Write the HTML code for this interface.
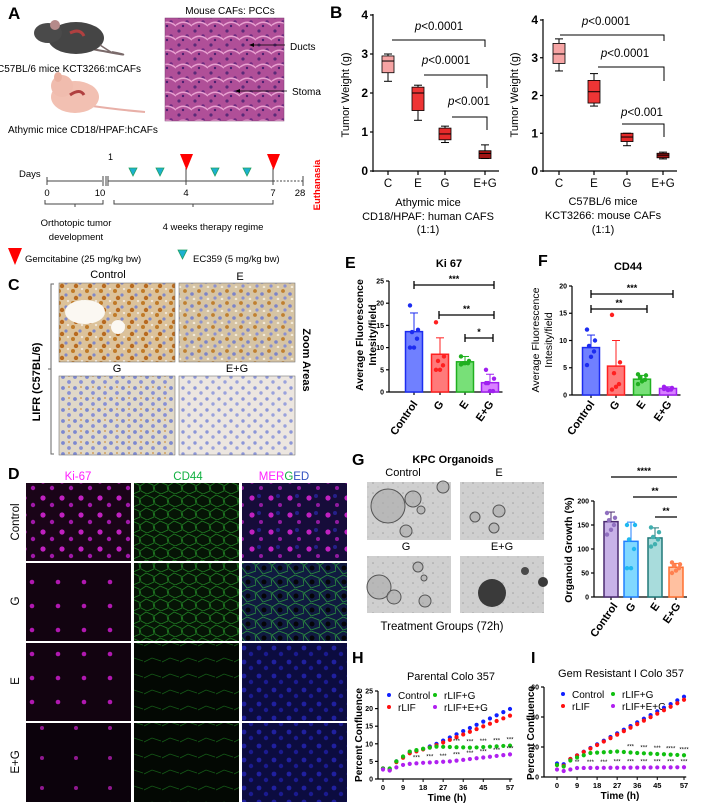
<!DOCTYPE html>
<html><head><meta charset="utf-8"><style>
html,body{margin:0;padding:0;background:#fff}
svg{display:block;font-family:"Liberation Sans",Arial,sans-serif}
</style></head><body>
<svg id="s" width="702" height="803" viewBox="0 0 702 803" xmlns="http://www.w3.org/2000/svg">
<defs>
<pattern id="he" width="16" height="14" patternUnits="userSpaceOnUse">
<rect width="16" height="14" fill="#b04f98"/><circle cx="3" cy="3" r="1.6" fill="#5a2a78"/><circle cx="11" cy="8" r="1.8" fill="#6a2a80"/><path d="M0 11 Q8 5 16 12" stroke="#e8a0d0" stroke-width="1.5" fill="none"/><circle cx="7" cy="12" r="1.2" fill="#4a2070"/></pattern>
<pattern id="ihc1" width="14" height="12" patternUnits="userSpaceOnUse">
<rect width="14" height="12" fill="#dcc29a"/><circle cx="3" cy="3" r="2" fill="#c07a28"/><circle cx="10" cy="7" r="1.6" fill="#8088c8"/><circle cx="6" cy="10" r="2.2" fill="#b86a20"/><circle cx="12" cy="1" r="1.2" fill="#f0e6d8"/></pattern>
<pattern id="ihc2" width="14" height="12" patternUnits="userSpaceOnUse">
<rect width="14" height="12" fill="#d6c4a4"/><circle cx="3" cy="3" r="1.9" fill="#c08030"/><circle cx="10" cy="6" r="1.8" fill="#7c84c8"/><circle cx="5" cy="10" r="1.6" fill="#8a90d0"/><circle cx="12" cy="11" r="1.3" fill="#f2ead8"/></pattern>
<pattern id="ihc3" width="12" height="11" patternUnits="userSpaceOnUse">
<rect width="12" height="11" fill="#e0d8c8"/><circle cx="3" cy="3" r="1.9" fill="#7c88d0"/><circle cx="9" cy="8" r="1.9" fill="#8890d4"/><circle cx="9" cy="2" r="1" fill="#d0a060"/></pattern>
<pattern id="ihc4" width="12" height="11" patternUnits="userSpaceOnUse">
<rect width="12" height="11" fill="#ece6e0"/><circle cx="3" cy="3" r="1.7" fill="#8c96d8"/><circle cx="9" cy="8" r="1.7" fill="#9aa2dc"/></pattern>
<pattern id="ki" width="19" height="17" patternUnits="userSpaceOnUse">
<rect width="19" height="17" fill="#1a0418"/><circle cx="5" cy="5" r="2.6" fill="#c020c0"/><circle cx="14" cy="12" r="2.2" fill="#a018a8"/></pattern>
<pattern id="kiS" width="26" height="24" patternUnits="userSpaceOnUse">
<rect width="26" height="24" fill="#120310"/><circle cx="6" cy="6" r="2.3" fill="#b018b0"/></pattern>
<pattern id="kiT" width="34" height="30" patternUnits="userSpaceOnUse">
<rect width="34" height="30" fill="#0c020c"/><circle cx="8" cy="8" r="2" fill="#901890"/></pattern>
<pattern id="cd" width="14" height="13" patternUnits="userSpaceOnUse">
<rect width="14" height="13" fill="#061406"/><path d="M0 5 L6 1 L13 4 L14 10 L7 13 L1 10 Z" stroke="#1f7a22" stroke-width="0.9" fill="none"/></pattern>
<pattern id="cdS" width="18" height="16" patternUnits="userSpaceOnUse">
<rect width="18" height="16" fill="#030803"/><path d="M0 6 L8 2 L17 5" stroke="#145a16" stroke-width="0.8" fill="none"/></pattern>
<pattern id="mg" width="19" height="17" patternUnits="userSpaceOnUse">
<rect width="19" height="17" fill="#160c3a"/><circle cx="5" cy="5" r="2.6" fill="#c020c0"/><circle cx="14" cy="12" r="2" fill="#901aa0"/><circle cx="12" cy="3" r="2" fill="#25208a"/></pattern>
<pattern id="mgG" width="16" height="14" patternUnits="userSpaceOnUse">
<rect width="16" height="14" fill="#101a40"/><path d="M0 5 L7 1 L15 4 L16 11 L7 14 Z" stroke="#2a8a40" stroke-width="0.9" fill="none"/><circle cx="8" cy="8" r="2.5" fill="#050508"/></pattern>
<pattern id="mgB" width="15" height="14" patternUnits="userSpaceOnUse">
<rect width="15" height="14" fill="#0c0c40"/><circle cx="4" cy="4" r="2.4" fill="#2020a0"/><circle cx="11" cy="10" r="2.2" fill="#1a1a90"/></pattern>
<pattern id="org" width="10" height="10" patternUnits="userSpaceOnUse">
<rect width="10" height="10" fill="#cfcfcf"/><circle cx="3" cy="3" r="0.8" fill="#a0a0a0"/><circle cx="8" cy="7" r="0.6" fill="#b0b0b0"/></pattern>
</defs>

<!-- ===== A ===== -->
<text x="8" y="19" font-size="17" font-weight="bold">A</text>
<path d="M60 43 Q150 60 112 52" stroke="#7a6a6a" stroke-width="2" fill="none"/>
<ellipse cx="76" cy="38" rx="28" ry="16" fill="#454545"/>
<ellipse cx="48" cy="33" rx="14" ry="10" fill="#4a4a4a"/>
<circle cx="55" cy="25" r="5" fill="#b58a8a"/>
<path d="M70 33 Q80 28 84 36" stroke="#b04040" stroke-width="3" fill="none"/>
<path d="M100 45 Q115 55 112 52" stroke="#7a6a6a" stroke-width="1.5" fill="none"/>
<text x="-3" y="72" font-size="10">C57BL/6 mice KCT3266:mCAFs</text>
<path d="M85 105 Q120 110 145 112" stroke="#e8b0a8" stroke-width="2" fill="none"/>
<ellipse cx="75" cy="97" rx="24" ry="16" fill="#f2c0b2"/>
<ellipse cx="62" cy="86" rx="11" ry="11" fill="#f0bcae"/>
<ellipse cx="58" cy="77" rx="4" ry="5" fill="#eab0a0"/>
<path d="M70 95 Q80 88 84 95" stroke="#b04040" stroke-width="3" fill="none"/>
<text x="8" y="133" font-size="10">Athymic mice CD18/HPAF:hCAFs</text>
<text x="230" y="14" font-size="10" text-anchor="middle">Mouse CAFs: PCCs</text>
<rect x="165" y="18" width="119" height="103" fill="url(#he)"/>
<rect x="165" y="18" width="119" height="103" fill="none" stroke="#7a3a70" stroke-width="0.5"/>
<line x1="250" y1="45" x2="285" y2="45" stroke="#000" stroke-width="0.8"/><path d="M249 45 l5 -2 v4z"/>
<line x1="236" y1="91" x2="287" y2="91" stroke="#000" stroke-width="0.8"/><path d="M235 91 l5 -2 v4z"/>
<text x="290" y="50" font-size="10">Ducts</text>
<text x="292" y="95" font-size="10">Stoma</text>
<text x="108" y="160" font-size="9">1</text>
<text x="19" y="177" font-size="9.5">Days</text>
<g stroke="#444" stroke-width="1" fill="none">
<line x1="47" y1="181" x2="102" y2="181"/><line x1="47" y1="177" x2="47" y2="185"/>
<line x1="103" y1="176" x2="103" y2="186"/><line x1="106" y1="176" x2="106" y2="186"/>
<line x1="108" y1="181" x2="273" y2="181"/><line x1="108" y1="176" x2="108" y2="186"/>
<line x1="186" y1="168" x2="186" y2="185"/><line x1="273" y1="168" x2="273" y2="185"/>
<line x1="273" y1="181" x2="303" y2="181" stroke-dasharray="2,1.5"/><line x1="303" y1="176" x2="303" y2="186"/>
<path d="M45 200 v4 h30 v3 v-3 h28 v-4"/>
<path d="M114 200 v4 h79 v3 v-3 h80 v-4"/>
</g>
<g font-size="9.5" text-anchor="middle"><text x="47" y="196">0</text><text x="100" y="196">10</text><text x="186" y="196">4</text><text x="273" y="196">7</text><text x="300" y="196">28</text></g>
<g fill="#f00"><path d="M180 154 h13 l-6.5 16z"/><path d="M267 154 h13 l-6.5 16z"/></g>
<g fill="#1cb0d0" stroke="#20a060" stroke-width="0.8"><path d="M129 168 h8 l-4 8z"/><path d="M156 168 h8 l-4 8z"/><path d="M211 168 h8 l-4 8z"/><path d="M243 168 h8 l-4 8z"/></g>
<text x="76" y="226" font-size="9.5" text-anchor="middle">Orthotopic tumor</text>
<text x="76" y="240" font-size="9.5" text-anchor="middle">development</text>
<text x="213" y="230" font-size="9.5" text-anchor="middle">4 weeks therapy regime</text>
<text transform="translate(320,185) rotate(-90)" font-size="9.5" font-weight="bold" fill="#f00" text-anchor="middle">Euthanasia</text>
<path d="M8 248 h14 l-7 17z" fill="#f00"/>
<text x="25" y="262" font-size="9.5">Gemcitabine (25 mg/kg bw)</text>
<path d="M178 250 h9 l-4.5 9z" fill="#1cb0d0" stroke="#20a060" stroke-width="0.8"/>
<text x="193" y="262" font-size="9.5">EC359 (5 mg/kg bw)</text>

<!-- ===== C ===== -->
<text x="8" y="290" font-size="16" font-weight="bold">C</text>
<text x="108" y="278" font-size="11" text-anchor="middle">Control</text>
<text x="240" y="280" font-size="11" text-anchor="middle">E</text>
<text x="117" y="372" font-size="11" text-anchor="middle">G</text>
<text x="237" y="372" font-size="11" text-anchor="middle">E+G</text>
<rect x="59" y="283" width="116" height="79" fill="url(#ihc1)" stroke="#777" stroke-width="0.6"/>
<ellipse cx="85" cy="312" rx="20" ry="12" fill="#fbf8f2"/><ellipse cx="118" cy="327" rx="7" ry="7" fill="#fbf8f2"/>
<rect x="179" y="283" width="116" height="79" fill="url(#ihc2)" stroke="#777" stroke-width="0.6"/>
<rect x="59" y="376" width="116" height="79" fill="url(#ihc3)" stroke="#777" stroke-width="0.6"/>
<rect x="179" y="376" width="116" height="79" fill="url(#ihc4)" stroke="#777" stroke-width="0.6"/>
<path d="M54 284 h-3 v170 h3 M51 369 h-3" stroke="#666" fill="none" stroke-width="1"/>
<text transform="translate(40,382) rotate(-90)" font-size="11" font-weight="bold" text-anchor="middle">LIFR (C57BL/6)</text>
<text transform="translate(303,360) rotate(90)" font-size="11" font-weight="bold" text-anchor="middle">Zoom Areas</text>

<!-- ===== D ===== -->
<text x="8" y="479" font-size="16" font-weight="bold">D</text>
<text x="78" y="480" font-size="11.5" fill="#ff20ff" text-anchor="middle">Ki-67</text>
<text x="188" y="480" font-size="11.5" fill="#10b040" text-anchor="middle">CD44</text>
<text x="284" y="480" font-size="11.5" text-anchor="middle"><tspan fill="#ff20ff">MER</tspan><tspan fill="#10b040">G</tspan><tspan fill="#3050c0">ED</tspan></text>
<rect x="26" y="483" width="105" height="78" fill="url(#ki)"/><rect x="134" y="483" width="105" height="78" fill="url(#cd)"/><rect x="242" y="483" width="105" height="78" fill="url(#mg)"/>
<rect x="26" y="563" width="105" height="78" fill="url(#kiS)"/><rect x="134" y="563" width="105" height="78" fill="url(#cd)"/><rect x="242" y="563" width="105" height="78" fill="url(#mgG)"/>
<rect x="26" y="643" width="105" height="78" fill="url(#kiS)"/><rect x="134" y="643" width="105" height="78" fill="url(#cdS)"/><rect x="242" y="643" width="105" height="78" fill="url(#mgB)"/>
<rect x="26" y="723" width="105" height="79" fill="url(#kiT)"/><rect x="134" y="723" width="105" height="79" fill="url(#cdS)"/><rect x="242" y="723" width="105" height="79" fill="url(#mgB)"/>
<g font-size="11.5" text-anchor="middle">
<text transform="translate(19,522) rotate(-90)">Control</text>
<text transform="translate(19,601) rotate(-90)">G</text>
<text transform="translate(19,681) rotate(-90)">E</text>
<text transform="translate(19,762) rotate(-90)">E+G</text></g>

<!-- ===== B ===== -->
<text x="330" y="18" font-size="17" font-weight="bold">B</text>
<text transform="translate(349,95) rotate(-90)" font-size="11" text-anchor="middle">Tumor Weight (g)</text>
<text transform="translate(518,95) rotate(-90)" font-size="11" text-anchor="middle">Tumor Weight (g)</text>
<g font-size="11" text-anchor="middle">
<text x="428" y="206">Athymic mice</text><text x="428" y="220">CD18/HPAF: human CAFS</text><text x="428" y="233">(1:1)</text>
<text x="603" y="205">C57BL/6 mice</text><text x="603" y="219">KCT3266: mouse CAFs</text><text x="603" y="233">(1:1)</text>
</g>

<!-- ===== E / F ===== -->
<text x="345" y="268" font-size="16" font-weight="bold">E</text>
<text x="449" y="267" font-size="11" font-weight="bold" text-anchor="middle">Ki 67</text>
<text transform="translate(363,335) rotate(-90)" font-size="10.5" font-weight="bold" text-anchor="middle">Average Fluorescence</text>
<text transform="translate(376,335) rotate(-90)" font-size="10.5" font-weight="bold" text-anchor="middle">Intesity/field</text>
<text x="538" y="266" font-size="16" font-weight="bold">F</text>
<text x="628" y="270" font-size="11" font-weight="bold" text-anchor="middle">CD44</text>
<text transform="translate(539,340) rotate(-90)" font-size="10.5" text-anchor="middle">Average Fluorescence</text>
<text transform="translate(552,340) rotate(-90)" font-size="10.5" text-anchor="middle">Intesity/field</text>

<!-- ===== G ===== -->
<text x="352" y="465" font-size="16" font-weight="bold">G</text>
<text x="453" y="463" font-size="11" font-weight="bold" text-anchor="middle">KPC Organoids</text>
<text x="403" y="476" font-size="11" text-anchor="middle">Control</text>
<text x="499" y="476" font-size="11" text-anchor="middle">E</text>
<text x="406" y="550" font-size="11" text-anchor="middle">G</text>
<text x="502" y="550" font-size="11" text-anchor="middle">E+G</text>
<rect x="367" y="482" width="84" height="58" fill="url(#org)"/>
<rect x="460" y="482" width="84" height="58" fill="url(#org)"/>
<rect x="367" y="556" width="84" height="57" fill="url(#org)"/>
<rect x="460" y="556" width="84" height="57" fill="url(#org)"/>
<g fill="#a8a8a8" fill-opacity="0.6" stroke="#555" stroke-width="1">
<circle cx="388" cy="506" r="17"/><circle cx="413" cy="499" r="8"/><circle cx="421" cy="510" r="4"/><circle cx="406" cy="531" r="6"/><circle cx="443" cy="487" r="6"/>
<circle cx="475" cy="517" r="5"/><circle cx="499" cy="511" r="6"/><circle cx="494" cy="528" r="5"/>
<circle cx="379" cy="587" r="12"/><circle cx="394" cy="597" r="7"/><circle cx="418" cy="567" r="5"/><circle cx="425" cy="601" r="6"/><circle cx="424" cy="578" r="3"/>
</g>
<circle cx="492" cy="593" r="14" fill="#3a3a3a"/><circle cx="525" cy="571" r="4" fill="#4a4a4a"/><circle cx="543" cy="582" r="5" fill="#3a3a3a"/>
<text x="442" y="630" font-size="11.5" text-anchor="middle">Treatment Groups (72h)</text>
<text transform="translate(572,550) rotate(-90)" font-size="10.5" font-weight="bold" text-anchor="middle">Organoid Growth (%)</text>

<!-- ===== H / I ===== -->
<text x="352" y="663" font-size="16" font-weight="bold">H</text>
<text x="451" y="680" font-size="11" text-anchor="middle">Parental Colo 357</text>
<text transform="translate(362,735) rotate(-90)" font-size="10" font-weight="bold" text-anchor="middle">Percent Confluence</text>
<text x="447" y="801" font-size="10" font-weight="bold" text-anchor="middle">Time (h)</text>
<text x="531" y="663" font-size="16" font-weight="bold">I</text>
<text x="621" y="677" font-size="11" text-anchor="middle">Gem Resistant I Colo 357</text>
<text transform="translate(534,733) rotate(-90)" font-size="10" font-weight="bold" text-anchor="middle">Percent Confluence</text>
<text x="620" y="799" font-size="10" font-weight="bold" text-anchor="middle">Time (h)</text>
<g font-size="10">
<circle cx="389" cy="695" r="2" fill="#1020ff"/><text x="398" y="699">Control</text>
<circle cx="389" cy="707" r="2" fill="#ff1010"/><text x="398" y="711">rLIF</text>
<circle cx="435" cy="695" r="2" fill="#10c010"/><text x="444" y="699">rLIF+G</text>
<circle cx="435" cy="707" r="2" fill="#b020f0"/><text x="444" y="711">rLIF+E+G</text>
<circle cx="563" cy="694" r="2" fill="#1020ff"/><text x="572" y="698">Control</text>
<circle cx="563" cy="706" r="2" fill="#ff1010"/><text x="572" y="710">rLIF</text>
<circle cx="613" cy="694" r="2" fill="#10c010"/><text x="622" y="698">rLIF+G</text>
<circle cx="613" cy="706" r="2" fill="#b020f0"/><text x="622" y="710">rLIF+E+G</text>
</g>
<g id="dyn"></g>
</svg>
<script>
var NS="http://www.w3.org/2000/svg",G=document.getElementById("dyn");
function E(t,a,txt){var e=document.createElementNS(NS,t);for(var k in a)e.setAttribute(k,a[k]);if(txt!==undefined)e.textContent=txt;G.appendChild(e);return e;}
function L(x1,y1,x2,y2,c,w){E("line",{x1:x1,y1:y1,x2:x2,y2:y2,stroke:c||"#000","stroke-width":w||1});}
function T(x,y,s,fs,o){o=o||{};var a={x:x,y:y,"font-size":fs,"text-anchor":o.a||"middle"};if(o.b)a["font-weight"]="bold";if(o.r)a.transform="rotate("+o.r+" "+x+" "+y+")";if(o.f)a.fill=o.f;return E("text",a,s);}
function axisY(x,y0,y1,ticks,Y,fs,bold){L(x,y0,x,y1,"#000",1.2);ticks.forEach(function(v){var y=Y(v);L(x-3,y,x,y,"#000",1.2);T(x-5,y+fs*0.35,String(v),fs,{a:"end",b:bold});});}
function bplot(ax,k,cats,boxes,ymax){var Y=function(v){return 171-v*k};axisY(ax,Y(ymax)-1,172,[0,1,2,3,4],Y,12,true);L(ax,171,cats[3]+14,171,"#000",1.2);
cats.forEach(function(c,i){L(c,171,c,175,"#000",1.2);T(c,187,["C","E","G","E+G"][i],11.5);});
boxes.forEach(function(b,i){var c=cats[i],w=12;L(c,Y(b[0]),c,Y(b[4]),"#000",1);E("rect",{x:c-w/2,y:Y(b[3]),width:w,height:Y(b[1])-Y(b[3]),fill:b[5],stroke:"#000","stroke-width":0.8});L(c-w/2,Y(b[2]),c+w/2,Y(b[2]),"#000",1);L(c-4,Y(b[0]),c+4,Y(b[0]),"#000",1);L(c-4,Y(b[4]),c+4,Y(b[4]),"#000",1);});}
bplot(373,39,[388,418,445,485],[[2.3,2.52,2.82,2.95,3.0,"#f6a4a4"],[1.3,1.55,2.0,2.15,2.2,"#ee3535"],[0.73,0.8,0.95,1.1,1.15,"#e52a2a"],[0.32,0.32,0.45,0.52,0.67,"#a01414"]],4);
bplot(543,37.75,[559,594,627,663],[[2.65,2.85,3.1,3.38,3.5,"#f6a4a4"],[1.72,1.8,2.1,2.4,2.58,"#ee3535"],[0.67,0.78,0.9,1.0,1.0,"#e52a2a"],[0.32,0.35,0.42,0.47,0.5,"#a01414"]],4);
function pb(tx,ty,x1,x2,ly,dy,s){var t=T(tx,ty,"",11.5);var a=document.createElementNS(NS,"tspan");a.setAttribute("font-style","italic");a.textContent="p";t.appendChild(a);t.appendChild(document.createTextNode(s));E("path",{d:"M"+x1+" "+ly+" H"+x2+" V"+dy,stroke:"#000",fill:"none","stroke-width":1});}
pb(439,30,392,485,40,47,"<0.0001");pb(446,64,424,487,75,88,"<0.0001");pb(469,105,452,487,117,130,"<0.001");
pb(606,25,560,664,35,41,"<0.0001");pb(625,57,598,664,67,81,"<0.0001");pb(642,116,622,664,124,137,"<0.001");
function bars(ax,base,k,ymax,step,xs,specs,lbl,lx,ly,bw,fs){var Y=function(v){return base-v*k};var t=[];for(var v=0;v<=ymax;v+=step)t.push(v);axisY(ax,Y(ymax),base,t,Y,fs,true);L(ax,base,xs[xs.length-1]+bw/2+4,base,"#000",1.2);
specs.forEach(function(s,i){var c=xs[i];L(c,base,c,base+3,"#000",1.2);L(c,Y(s[1]),c,Y(s[2]),s[4],1);L(c-4,Y(s[1]),c+4,Y(s[1]),s[4],1);L(c-4,Y(s[2]),c+4,Y(s[2]),s[4],1);
E("rect",{x:c-bw/2,y:Y(s[0]),width:bw,height:base-Y(s[0]),fill:s[3],stroke:s[4],"stroke-width":1.5});
var off=[-4,4,-2,3,0,-4];s[5].forEach(function(d,j){E("circle",{cx:c+off[j],cy:Y(d),r:2.2,fill:s[6]});});
T(c+lx[i],ly,lbl[i],11,{a:"end",b:true,r:-55});});}
var lb=["Control","G","E","E+G"];
bars(389,392,4.44,25,5,[414,440,465,490],[[13.6,17.8,9.6,"#7080ff","#1c2cf0",[19.5,14,13.5,12,10,10],"#1c2cf0"],[8.5,12.2,4.8,"#ff7a7a","#ff2020",[15.7,8,7,6,5,5],"#ff2020"],[6.8,8,6,"#78e078","#20b020",[8,7,6.5,6.5,6.5,6.2],"#20b020"],[2.1,4,0.5,"#d880ff","#a020f0",[5,3,2,0.2,0.2,2],"#a020f0"]],lb,[4,4,4,4],404,17,7);
bars(572,395,5.45,20,5,[591,616,642,668],[[8.7,11,6.5,"#7080ff","#1c2cf0",[12,10,9,8,7,5.5],"#1c2cf0"],[5.3,10,0.7,"#ff7a7a","#ff2020",[14.7,6,4,2,1.5,1],"#ff2020"],[2.9,3.6,2.3,"#78e078","#20b020",[3.8,3.6,3.2,2.8,2.5,2],"#20b020"],[1.2,1.5,0.9,"#d880ff","#a020f0",[1.5,1.3,1.2,1.0,0.9,1.1],"#a020f0"]],lb,[4,4,4,4],404,17,7);
bars(594,597,0.48,200,50,[611,631,655,676],[[157,177,138,"#c8b2e8","#4a2a70",[175,165,160,150,140,130],"#9070c0"],[116,156,76,"#80d8ff","#2080ff",[150,150,120,100,60,60],"#20b8f0"],[123,144,104,"#a8dcdc","#207878",[145,135,125,120,110,105],"#40b0b0"],[62,70,55,"#ffc0a0","#ff7030",[72,68,65,60,55,50],"#ff8050"]],lb,[7,5,5,5],606,14,7);
function sig(x1,x2,y,s,caps){L(x1,y,x2,y,"#000",1.3);if(caps){L(x1,y-4,x1,y+4,"#000",1.3);L(x2,y-4,x2,y+4,"#000",1.3);}T((x1+x2)/2,y-3,s,9,{b:true});}
sig(414,494,285,"***",1);sig(439,494,315,"**",1);sig(465,493,338,"*",1);
sig(591,673,294,"***",1);sig(591,647,309,"**",1);
sig(611,677,477,"****");sig(633,677,497,"**");sig(655,677,517,"**");
function interp(p,t){for(var i=1;i<p.length;i++){if(t<=p[i][0]){var a=p[i-1],b=p[i];return a[1]+(b[1]-a[1])*(t-a[0])/(b[0]-a[0]);}}return p[p.length-1][1];}
function lc(ax,x0,base,kx,ky,ymax,ystep,series,stars){var X=function(t){return x0+t*kx},Y=function(v){return base-v*ky};var tk=[];for(var v=0;v<=ymax;v+=ystep)tk.push(v);axisY(ax,Y(ymax),base,tk,Y,7,true);L(ax,base,X(58),base,"#000",1.2);
[0,9,18,27,36,45,57].forEach(function(t){L(X(t),base,X(t),base+3,"#000",1);T(X(t),base+11,String(t),7.5,{b:true});});
series.forEach(function(s){for(var t=0;t<=57;t+=3)E("circle",{cx:X(t),cy:Y(interp(s[0],t)),r:2.1,fill:s[1]});});
stars.forEach(function(s){s[0].forEach(function(t){T(X(t),Y(interp(s[1],t))-4,s[2]||"***",6);});});}
var hC=[[0,3],[3,2.8],[4,2.6],[6,5],[12,7.5],[18,8.5],[24,10],[57,19.9]],hR=[[0,3],[3,2.5],[4,2.4],[6,4.8],[12,7.3],[18,8.4],[24,9.6],[57,18]],hG=[[0,3],[4,3],[6,5],[12,7.8],[18,8.6],[24,9.2],[40,8.9],[57,9.5]],hP=[[0,2.7],[4,2.3],[7,3.8],[12,4.3],[18,4.6],[30,5],[57,7]];
lc(378,383,779,127/57,3.52,25,5,[[hC,"#1020ff"],[hR,"#ff1010"],[hG,"#10c010"],[hP,"#b020f0"]],[[[33,39,45,51,57],hG],[[15,21,27,33,39,45,51,57],hP]]);
var iC=[[0,9],[3,8.5],[4,7],[6,12],[57,53.5]],iR=[[0,8],[3,7.5],[4,7],[6,12],[57,51.5]],iG=[[0,8],[3,7],[6,11],[9,13],[15,16],[27,17],[36,16],[57,14.5]],iP=[[0,5],[3,4],[9,6],[57,6.5]];
lc(544,557,777,127/57,1.5,60,20,[[iC,"#1020ff"],[iR,"#ff1010"],[iG,"#10c010"],[iP,"#b020f0"]],[[[33,39,45],iG],[[51,57],iG,"****"],[[9],iP,"**"],[[15,21,27,33,39,45,51,57],iP]]);
</script>
</body></html>
